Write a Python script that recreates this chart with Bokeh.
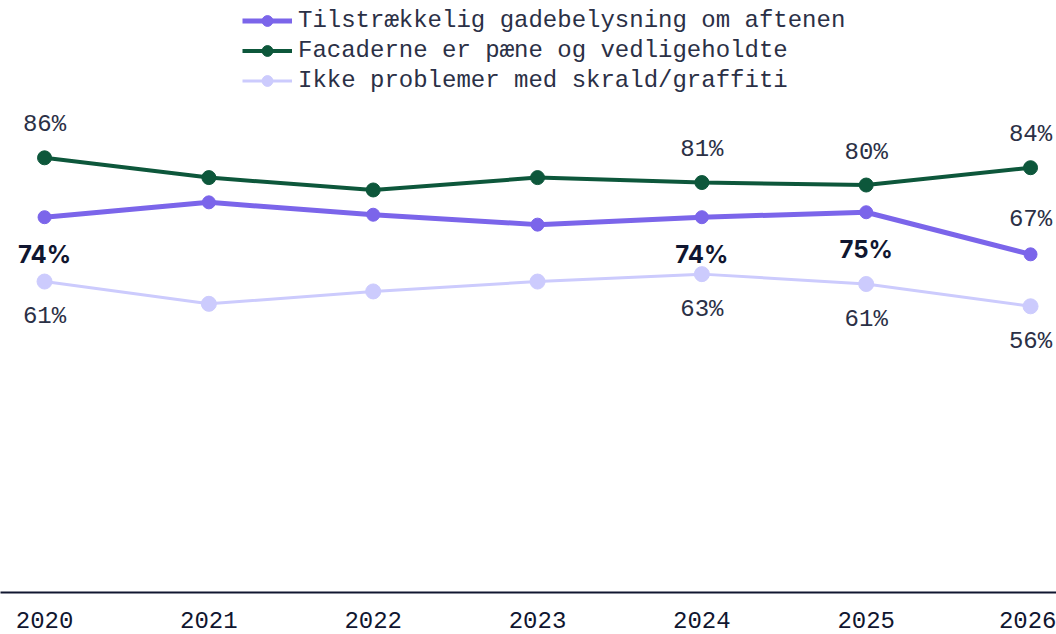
from bokeh.plotting import figure
from bokeh.models import Range1d, Legend, LegendItem, ColumnDataSource, FixedTicker
from bokeh.core.properties import value
from bokeh.embed import file_html
from bokeh.resources import INLINE

# ---- data ----
years = [2020, 2021, 2022, 2023, 2024, 2025, 2026]
series_names = [
    "Tilstrækkelig gadebelysning om aftenen",
    "Facaderne er pæne og vedligeholdte",
    "Ikke problemer med skrald/graffiti",
]
gadebelysning = [74, 77, 74.5, 72.5, 74, 75, 66.5]
facader = [86, 82, 79.5, 82, 81, 80.5, 84]
skrald = [61, 56.5, 59, 61, 62.5, 60.5, 56]

label_years = [2020, 2024, 2025, 2026]
gade_labels = ["74%", "74%", "75%", "67%"]
facade_labels = ["86%", "81%", "80%", "84%"]
skrald_labels = ["61%", "63%", "61%", "56%"]

PURPLE = "#7b65ea"
GREEN = "#0d573b"
LIGHT = "#cccbfd"
TEXT = "#2b3046"
DARK = "#101630"
MONO = "Liberation Mono"

p = figure(width=1056, height=634, output_backend="svg", toolbar_location=None,
           x_range=Range1d(2019.732, 2026.158), y_range=Range1d(-1.82, 117.78),
           min_border_left=0, min_border_right=0, min_border_top=0, min_border_bottom=42)
p.outline_line_color = None
p.grid.visible = False
p.yaxis.visible = False
p.background_fill_color = "white"
p.border_fill_color = "white"

xa = p.xaxis[0]
xa.ticker = FixedTicker(ticks=years)
xa.major_tick_line_color = None
xa.minor_tick_line_color = None
xa.axis_line_color = DARK
xa.axis_line_width = 2
xa.major_label_text_font = MONO
xa.major_label_text_font_size = "24px"
xa.major_label_text_color = DARK
xa.major_label_standoff = 13

items = []
specs = [
    (gadebelysning, PURPLE, 5, 13),
    (facader, GREEN, 4, 14),
    (skrald, LIGHT, 3, 15),
]
for (vals, col, lw, sz), name in zip(specs, series_names):
    src = ColumnDataSource(dict(x=years, y=vals))
    r1 = p.line("x", "y", source=src, line_color=col, line_width=lw)
    r2 = p.scatter("x", "y", source=src, size=sz, fill_color=col, line_color=col)
    items.append(LegendItem(label=name, renderers=[r1, r2]))


def lab_vals(vals):
    return [vals[years.index(y)] for y in label_years]


# green labels above
p.text(x=label_years, y=lab_vals(facader), text=facade_labels, y_offset=-33,
       text_align="center", text_baseline="middle", text_font=value(MONO),
       text_font_size="24px", text_color=TEXT)
# light labels below
p.text(x=label_years, y=lab_vals(skrald), text=skrald_labels, y_offset=35,
       text_align="center", text_baseline="middle", text_font=value(MONO),
       text_font_size="24px", text_color=TEXT)
# purple labels: bold below for first three, regular above for last
gv = lab_vals(gadebelysning)
p.text(x=label_years[:3], y=gv[:3], text=gade_labels[:3], y_offset=37,
       text_align="center", text_baseline="middle", text_font=value("Inter"),
       text_font_style="bold", text_font_size="24px", text_color=DARK)
p.text(x=label_years[3:], y=gv[3:], text=gade_labels[3:], y_offset=-35,
       text_align="center", text_baseline="middle", text_font=value(MONO),
       text_font_size="24px", text_color=TEXT)

legend = Legend(items=items, location=(242, 498), orientation="vertical",
                glyph_width=50, glyph_height=27, label_height=27, spacing=3,
                padding=0, margin=0, label_standoff=6,
                border_line_color=None, background_fill_alpha=0,
                label_text_font=MONO, label_text_font_size="24px",
                label_text_color=TEXT)
p.add_layout(legend)

open("out.html", "w").write(file_html(p, INLINE))
